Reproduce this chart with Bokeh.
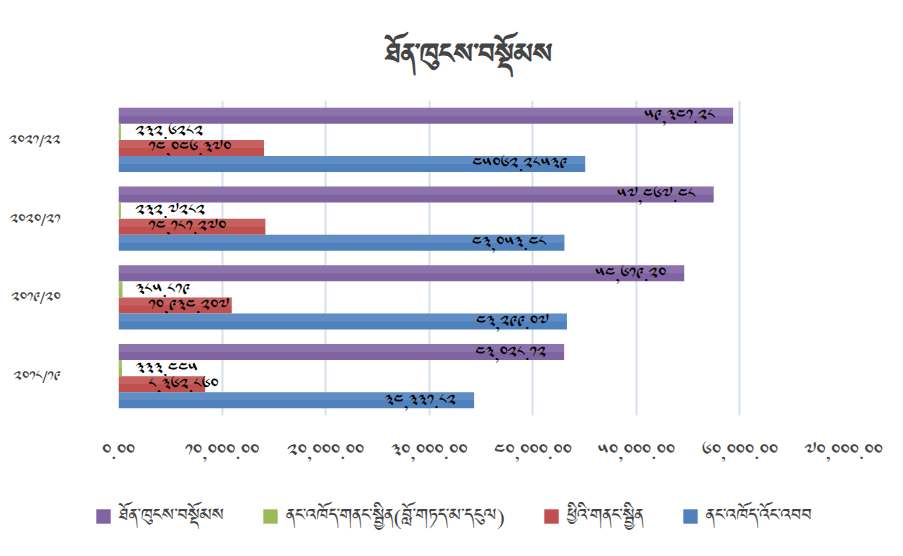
from bokeh.plotting import figure
from bokeh.models import ColumnDataSource, Range1d, FactorRange, Legend, LegendItem, FixedTicker
from bokeh.transform import dodge
from bokeh.embed import file_html
from bokeh.resources import INLINE
from bokeh.core.properties import value

# ---- data ----
years = ["2018/19", "2019/20", "2020/21", "2021/22"]          # bottom -> top
total_revenue = ["43,028.12", "54,619.20", "57,467.48", "59,341.28"]
internal_grants = ["333.445", "385.819", "232.7282", "232.6282"]
foreign_grants = ["8,362.860", "10,934.207", "14,181.270", "14,046.370"]
domestic_revenue = ["34,331.82", "43,299.07", "43,053.48", "45062.28539"]

series_names = [
    "ཐོན་ཁུངས་བསྡོམས",
    "ནང་འཁོད་གནང་སྦྱིན(བློ་གཏད་མ་དངུལ)",
    "ཕྱིའི་གནང་སྦྱིན",
    "ནང་འཁོད་འོང་འབབ",
]
series_colors = ["#8064A2", "#9BBB59", "#C0504D", "#4F81BD"]
title_text = "ཐོན་ཁུངས་བསྡོམས"
x_ticks = [0, 10000, 20000, 30000, 40000, 50000, 60000, 70000]
x_tick_labels = ["0.00", "10,000.00", "20,000.00", "30,000.00",
                 "40,000.00", "50,000.00", "60,000.00", "70,000.00"]

TIB = str.maketrans("0123456789", "༠༡༢༣༤༥༦༧༨༩")


def tib(s):
    return s.translate(TIB)


FONT = "Noto Sans Tibetan, Jomolhari, Noto Serif Tibetan, Noto Sans, DejaVu Sans"

year_factors = [tib(y) for y in years]

W = 887
H_MAIN = 478
H_LEG = 62

p = figure(width=W, height=H_MAIN, output_backend="svg", toolbar_location=None,
           y_range=FactorRange(factors=year_factors, range_padding=0),
           x_range=Range1d(0, 70000),
           min_border_left=118, min_border_right=44, min_border_top=100,
           min_border_bottom=63)
p.background_fill_color = "white"
p.border_fill_color = "white"
p.outline_line_color = None

p.title.text = title_text
p.title.align = "left"
p.title.offset = 267
p.title.text_font = FONT
p.title.text_font_size = "35px"
p.title.text_font_style = "bold"
p.title.standoff = 35

series = [total_revenue, internal_grants, foreign_grants, domestic_revenue]
offsets = [0.306, 0.102, -0.102, -0.306]
bar_h = 0.203

# legend-only figure shown under the chart (separate root, so no frame alignment)
pl = figure(width=W, height=H_LEG, output_backend="svg", toolbar_location=None,
            x_range=Range1d(0, 1), y_range=Range1d(0, 1),
            min_border_left=0, min_border_right=0, min_border_top=0,
            min_border_bottom=0)
pl.axis.visible = False
pl.grid.visible = False
pl.outline_line_color = None
pl.background_fill_color = "white"
pl.border_fill_color = "white"

items = []
for vals, name, col, off in zip(series, series_names, series_colors, offsets):
    src = ColumnDataSource(dict(
        year=year_factors,
        val=[float(v.replace(",", "")) for v in vals],
        zero=[0.0] * len(vals),
        label=[tib(v) for v in vals],
    ))
    p.hbar(y=dodge("year", off, range=p.y_range), left=0, right="val",
           height=bar_h, source=src, fill_color=col, line_color=None)
    # soft highlight on the upper part of each bar (gradient look)
    p.hbar(y=dodge("year", off + bar_h / 4, range=p.y_range), left=0, right="val",
           height=bar_h / 2, source=src, fill_color="white", fill_alpha=0.10,
           line_color=None)
    # swatch renderer for the legend figure (kept outside its visible range)
    lr = pl.hbar(y=[-5], left=[0], right=[1], height=0.5, fill_color=col,
                 line_color=None)
    items.append(LegendItem(label=name, renderers=[lr]))
    if off > 0.2 or off < -0.2:
        xcol, xoff, align = "val", -18, "right"
    elif off > 0:
        xcol, xoff, align = "zero", 17, "left"
    else:
        xcol, xoff, align = "zero", 30, "left"
    p.text(x=xcol, y=dodge("year", off, range=p.y_range), text="label",
           source=src, x_offset=xoff, text_align=align, text_baseline="middle",
           text_font=value(FONT), text_font_size="18px", text_color="black")

# axes
p.xaxis.ticker = FixedTicker(ticks=x_ticks)
p.xaxis.major_label_overrides = {t: tib(l) for t, l in zip(x_ticks, x_tick_labels)}
p.xaxis.major_label_text_font = FONT
p.xaxis.major_label_text_font_size = "20px"
p.xaxis.major_label_standoff = 13
p.xaxis.axis_line_color = None
p.xaxis.major_tick_line_color = None
p.xaxis.minor_tick_line_color = None

p.yaxis.major_label_text_font = FONT
p.yaxis.major_label_text_font_size = "16px"
p.yaxis.major_label_standoff = 52
p.yaxis.axis_line_color = None
p.yaxis.major_tick_line_color = None
p.yaxis.minor_tick_line_color = None

p.xgrid.grid_line_color = "#D6E1EF"
p.xgrid.grid_line_width = 2
p.ygrid.grid_line_color = None

legend = Legend(items=items, orientation="horizontal", location=(94, 7),
                label_text_font=FONT, label_text_font_size="22px",
                glyph_width=18, glyph_height=18, label_standoff=7, spacing=37,
                padding=2, margin=0, border_line_color=None,
                background_fill_alpha=0)
pl.add_layout(legend, "center")

open("out.html", "w").write(file_html([p, pl], INLINE))
